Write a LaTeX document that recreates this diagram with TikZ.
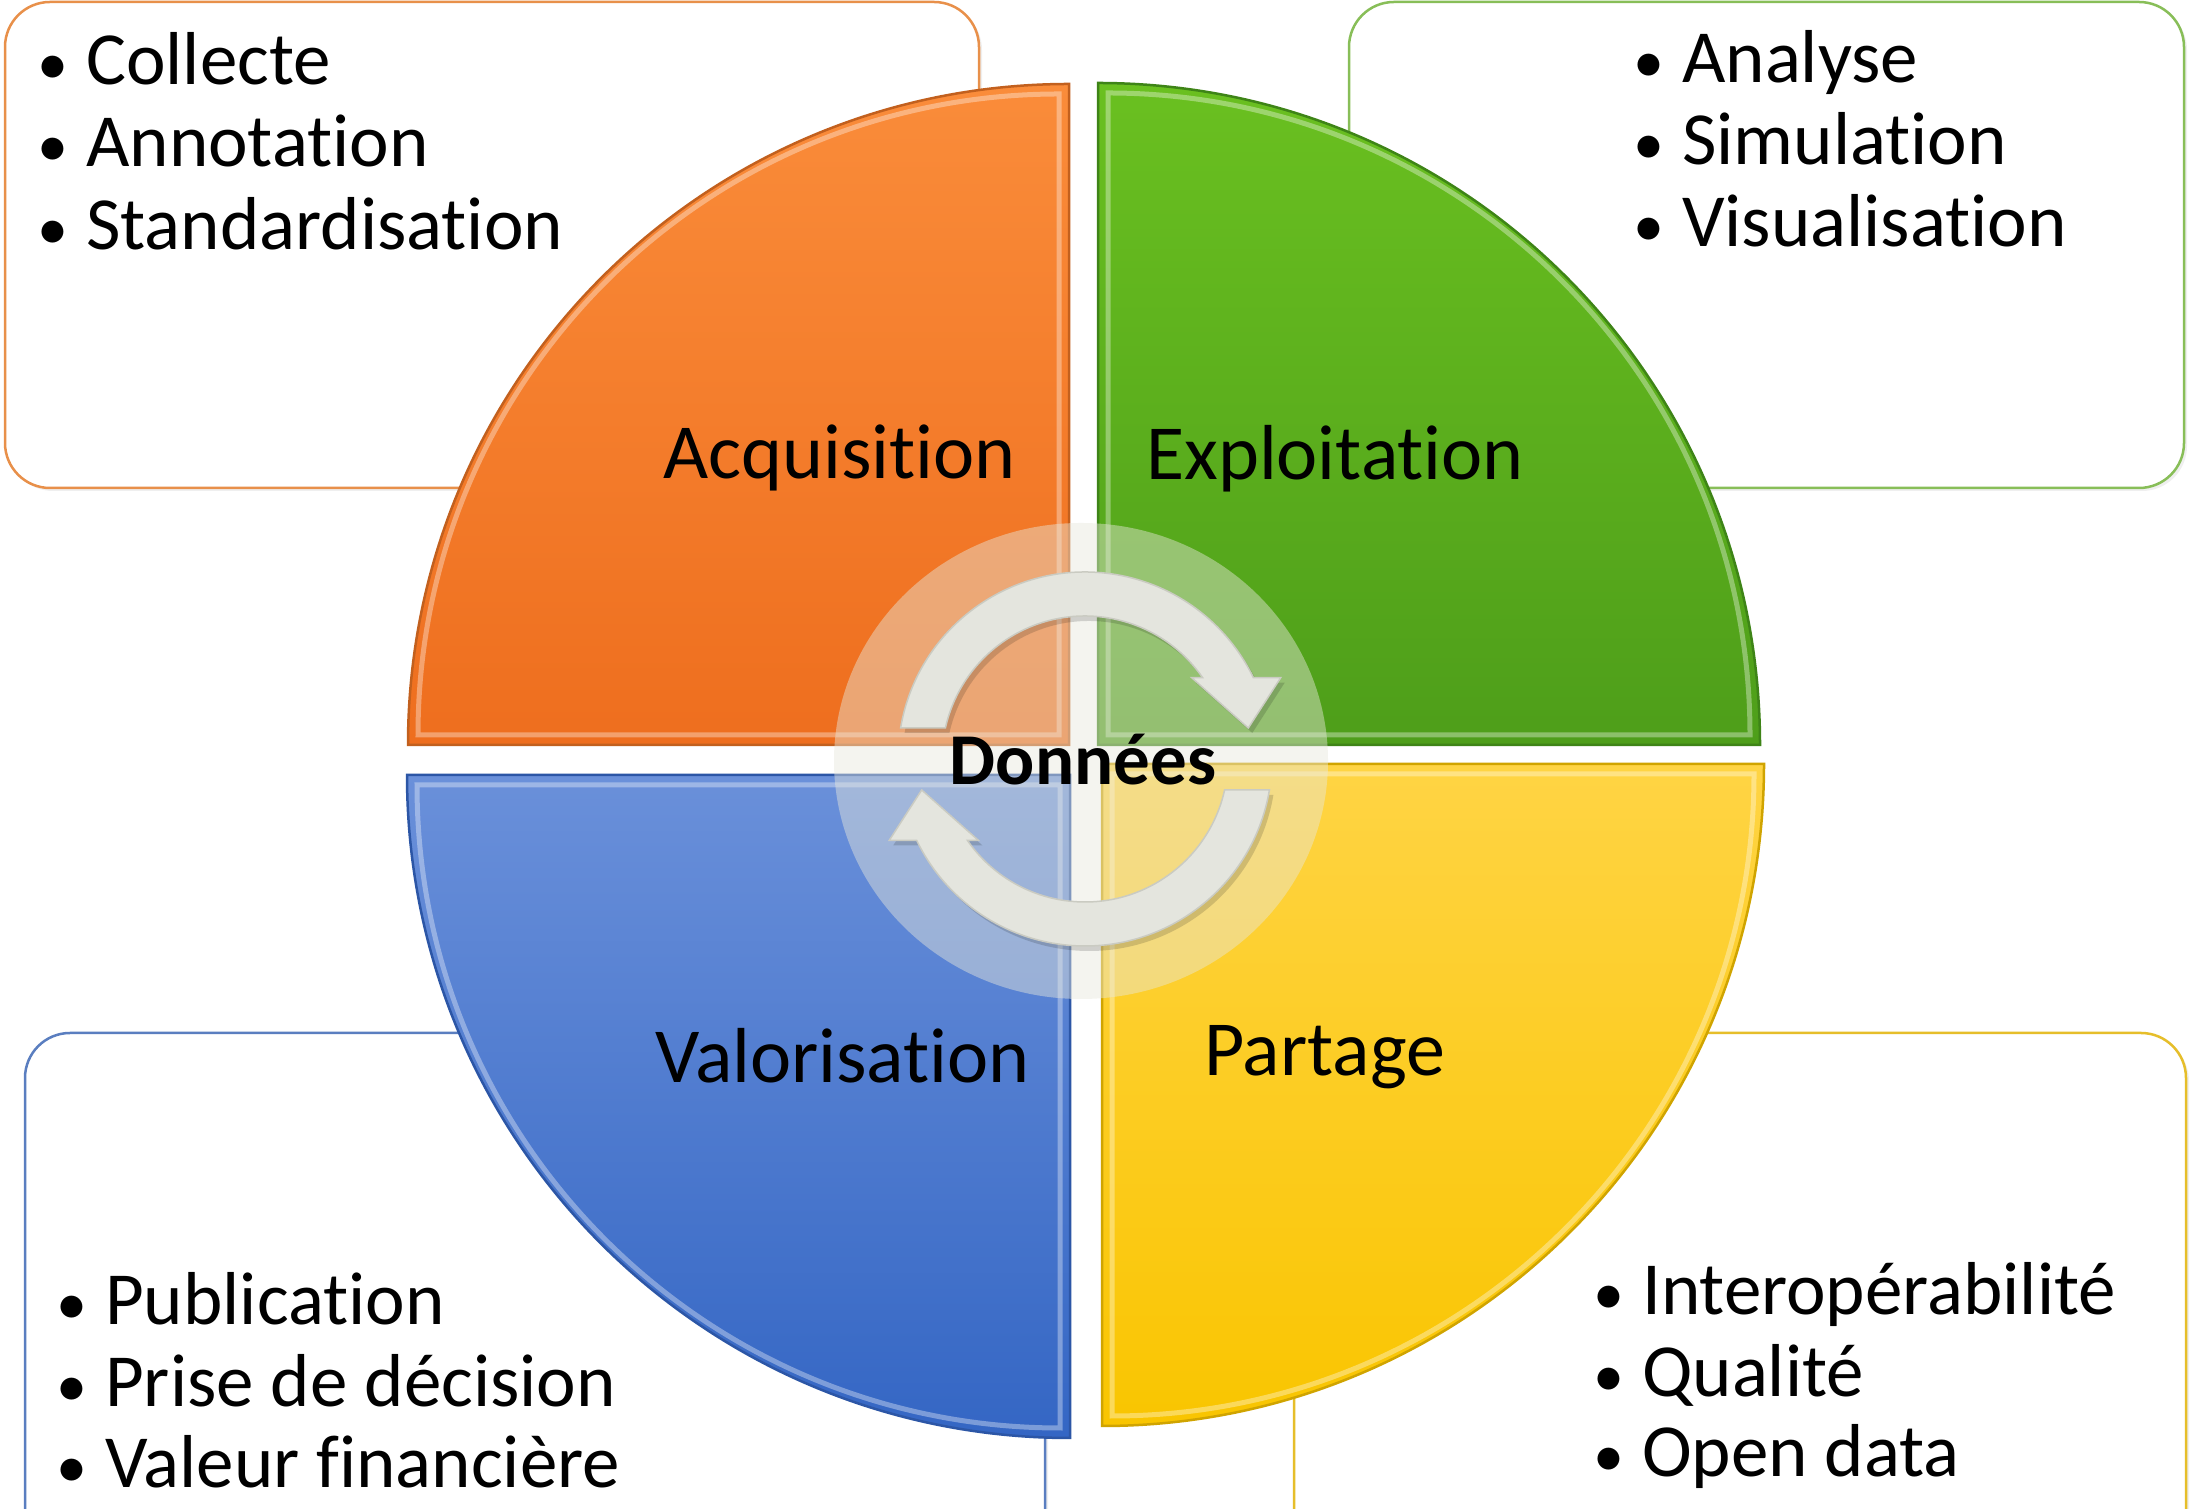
\documentclass[tikz,border=0pt]{standalone}
\usepackage{fontspec}
\setmainfont{Carlito}[Ligatures={NoCommon}]
\usetikzlibrary{shadows}
\definecolor{orT}{HTML}{FA8C3A}
\definecolor{orB}{HTML}{EE6E1E}
\definecolor{orD}{HTML}{C2601E}
\definecolor{grT}{HTML}{6AC020}
\definecolor{grB}{HTML}{4E9E1A}
\definecolor{grD}{HTML}{3E8417}
\definecolor{blT}{HTML}{6A90DA}
\definecolor{blB}{HTML}{3466C4}
\definecolor{blD}{HTML}{2C56A6}
\definecolor{yeT}{HTML}{FFD444}
\definecolor{yeB}{HTML}{F9C500}
\definecolor{yeD}{HTML}{D0A400}
\definecolor{orBox}{HTML}{E8904A}
\definecolor{grBox}{HTML}{88BE58}
\definecolor{blBox}{HTML}{5A7EC0}
\definecolor{yeBox}{HTML}{E6BE2A}
\definecolor{ovl}{RGB}{232,232,220}
\definecolor{arrF}{HTML}{E4E5DE}
\definecolor{arrE}{HTML}{CACBC2}
\newcommand{\bul}{\llap{{\fontsize{62}{62}\selectfont •}\hspace{18pt}}}
\begin{document}
\begin{tikzpicture}[x=1pt,y=1pt,
  lbl/.style={inner sep=0pt, font=\fontsize{78}{90}\selectfont, text=black},
  itm/.style={inner sep=0pt, font=\fontsize{75}{88}\selectfont, anchor=base west, text=black},
  infobox/.style={fill=white, line width=2.5pt, rounded corners=45pt,
    drop shadow={opacity=0.12, shadow xshift=3pt, shadow yshift=-3pt}},
  sector/.style={line width=2.5pt},
  bevel/.style={draw=white, draw opacity=0.35, line width=5pt},
  cycarrow/.pic={
    \path[pic actions] (170.46:187) arc[start angle=170.46, end angle=25.77, radius=187]
      -- (195.7,81.3) -- (163.3,31) -- (106.7,81.3) -- (34.65:143)
      arc[start angle=34.65, end angle=167.48, radius=143] -- cycle;
  }
]
\useasboundingbox (0,0) rectangle (2193,1509);
\clip (0,0) rectangle (2193,1509);
\fill[white] (0,0) rectangle (2193,1509);

% information boxes
\draw[infobox, draw=orBox] (5,1021) rectangle (979,1507);
\draw[infobox, draw=grBox] (1349,1021) rectangle (2184,1507);
\draw[infobox, draw=blBox] (25,476) rectangle (1045,-60);
\draw[infobox, draw=yeBox] (1294,476) rectangle (2186,-60);

% quarter sectors
\path[sector, draw=orD, top color=orT, bottom color=orB]
  (1069,764) -- (408,764) arc[start angle=180, end angle=90, radius=661] -- cycle;
\path[bevel] (1059,774) -- (418,774) arc[start angle=180, end angle=90, radius=641] -- cycle;

\path[sector, draw=grD, top color=grT, bottom color=grB]
  (1098,764) -- (1760,764) arc[start angle=0, end angle=90, radius=662] -- cycle;
\path[bevel] (1108,774) -- (1750,774) arc[start angle=0, end angle=90, radius=642] -- cycle;

\path[sector, draw=blD, top color=blT, bottom color=blB]
  (1070,734) -- (407,734) arc[start angle=180, end angle=270, radius=663] -- cycle;
\path[bevel] (1060,724) -- (417,724) arc[start angle=180, end angle=270, radius=643] -- cycle;

\path[sector, draw=yeD, top color=yeT, bottom color=yeB]
  (1102,745) -- (1764,745) arc[start angle=0, end angle=-90, radius=662] -- cycle;
\path[bevel] (1112,735) -- (1754,735) arc[start angle=0, end angle=-90, radius=642] -- cycle;

% sector labels
\node[lbl, anchor=base east] (acq) at (1016,1030) {Acquisition};
\node[lbl, anchor=base west] (expl) at (1146,1029) {Exploitation};
\node[lbl, anchor=base east] (valo) at (1030,426) {Valorisation};
\node[lbl, anchor=base west] (part) at (1204,433) {Partage};

% central translucent disc
\fill[ovl, opacity=0.45] (1081,748) ellipse [x radius=247, y radius=238];

% cycle arrows
\pic[fill=black, opacity=0.15] at (1089,745) {cycarrow};
\pic[fill=black, opacity=0.15, rotate=180] at (1089,745) {cycarrow};
\pic[fill=arrF, draw=arrE, line width=1.5pt] at (1085,750) {cycarrow};
\pic[fill=arrF, draw=arrE, line width=1.5pt, rotate=180] at (1085,750) {cycarrow};

\node[inner sep=0pt, anchor=base, font=\fontsize{73}{84}\selectfont\bfseries] (donnees) at (1083,724) {Données};

% bullet lists
\node[itm] (tl1) at (86,1424) {\bul Collecte};
\node[itm] (tl2) at (86,1342) {\bul Annotation};
\node[itm] (tl3) at (86,1259) {\bul Standardisation};

\node[itm] (tr1) at (1682,1426) {\bul Analyse};
\node[itm] (tr2) at (1682,1344) {\bul Simulation};
\node[itm] (tr3) at (1682,1262) {\bul Visualisation};

\node[itm] (bl1) at (105,184) {\bul Publication};
\node[itm] (bl2) at (105,102) {\bul Prise de décision};
\node[itm] (bl3) at (105,21) {\bul Valeur financière};

\node[itm] (br1) at (1642,194) {\bul Interopérabilité};
\node[itm] (br2) at (1642,112) {\bul Qualité};
\node[itm] (br3) at (1642,32) {\bul Open data};
\end{tikzpicture}
\end{document}
